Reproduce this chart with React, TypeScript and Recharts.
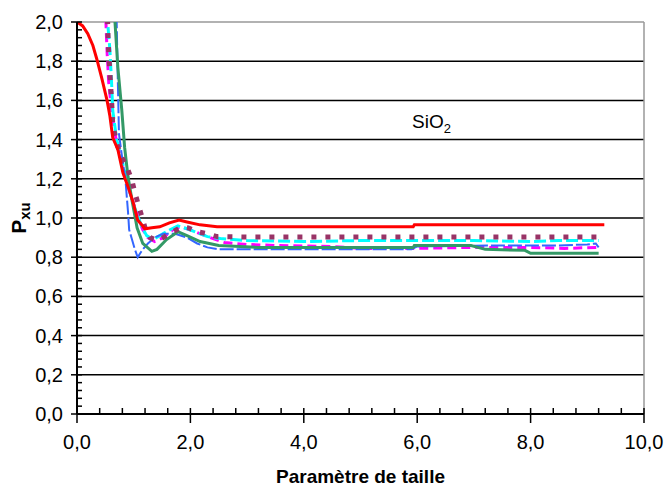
import React from "react";
import { LineChart, Line, XAxis, YAxis, ReferenceLine } from "recharts";

type P = { x: number; y: number };

// Tick values
const xTicks = [0, 0.4, 0.8, 1.2, 1.6, 2, 2.4, 2.8, 3.2, 3.6, 4, 4.4, 4.8, 5.2, 5.6, 6, 6.4, 6.8, 7.2, 7.6, 8, 8.4, 8.8, 9.2, 9.6, 10];
const yTicks = [0, 0.04, 0.08, 0.12, 0.16, 0.2, 0.24, 0.28, 0.32, 0.36, 0.4, 0.44, 0.48, 0.52, 0.56, 0.6, 0.64, 0.68, 0.72, 0.76, 0.8, 0.84, 0.88, 0.92, 0.96, 1.0, 1.04, 1.08, 1.12, 1.16, 1.2, 1.24, 1.28, 1.32, 1.36, 1.4, 1.44, 1.48, 1.52, 1.56, 1.6, 1.64, 1.68, 1.72, 1.76, 1.8, 1.84, 1.88, 1.92, 1.96, 2.0];
const gridValues = [0.2, 0.4, 0.6, 0.8, 1.0, 1.2, 1.4, 1.6, 1.8];

// Series (Paramètre de taille, Pxu)
const red: P[] = [
  { x: 0, y: 2.0 }, { x: 0.1, y: 1.98 }, { x: 0.19, y: 1.94 }, { x: 0.28, y: 1.88 }, { x: 0.35, y: 1.81 }, { x: 0.44, y: 1.71 }, { x: 0.53, y: 1.6 },
  { x: 0.58, y: 1.52 }, { x: 0.63, y: 1.41 }, { x: 0.72, y: 1.35 }, { x: 0.81, y: 1.23 }, { x: 0.9, y: 1.16 },
  { x: 0.99, y: 1.08 }, { x: 1.07, y: 0.99 }, { x: 1.2, y: 0.945 }, { x: 1.32, y: 0.95 }, { x: 1.46, y: 0.955 },
  { x: 1.63, y: 0.975 }, { x: 1.8, y: 0.99 }, { x: 1.94, y: 0.98 }, { x: 2.17, y: 0.965 }, { x: 2.47, y: 0.955 },
  { x: 3.0, y: 0.955 }, { x: 4.0, y: 0.955 }, { x: 5.0, y: 0.955 }, { x: 5.93, y: 0.955 }, { x: 5.95, y: 0.965 },
  { x: 7.0, y: 0.965 }, { x: 8.0, y: 0.965 }, { x: 9.3, y: 0.965 },
];
const magenta: P[] = [
  { x: 0.49, y: 2.3 }, { x: 0.51, y: 2.0 }, { x: 0.53, y: 1.85 }, { x: 0.56, y: 1.69 }, { x: 0.61, y: 1.55 },
  { x: 0.67, y: 1.43 }, { x: 0.72, y: 1.36 }, { x: 0.81, y: 1.26 }, { x: 0.9, y: 1.16 }, { x: 0.99, y: 1.08 },
  { x: 1.08, y: 1.0 }, { x: 1.16, y: 0.94 }, { x: 1.25, y: 0.9 }, { x: 1.37, y: 0.88 }, { x: 1.52, y: 0.9 },
  { x: 1.69, y: 0.94 }, { x: 1.82, y: 0.955 }, { x: 2.0, y: 0.94 }, { x: 2.17, y: 0.92 }, { x: 2.35, y: 0.9 },
  { x: 2.6, y: 0.875 }, { x: 3.0, y: 0.865 }, { x: 3.5, y: 0.86 }, { x: 4.5, y: 0.855 }, { x: 5.0, y: 0.845 },
  { x: 6.0, y: 0.845 }, { x: 7.0, y: 0.85 }, { x: 8.0, y: 0.85 }, { x: 8.6, y: 0.845 }, { x: 9.2, y: 0.85 },
];
const cyan: P[] = [
  { x: 0.52, y: 2.3 }, { x: 0.54, y: 2.0 }, { x: 0.58, y: 1.86 }, { x: 0.61, y: 1.69 }, { x: 0.63, y: 1.55 },
  { x: 0.7, y: 1.4 }, { x: 0.79, y: 1.3 }, { x: 0.88, y: 1.19 }, { x: 0.97, y: 1.09 }, { x: 1.06, y: 1.02 },
  { x: 1.15, y: 0.95 }, { x: 1.23, y: 0.91 }, { x: 1.34, y: 0.89 }, { x: 1.46, y: 0.91 }, { x: 1.64, y: 0.94 },
  { x: 1.78, y: 0.96 }, { x: 1.94, y: 0.945 }, { x: 2.12, y: 0.925 }, { x: 2.3, y: 0.905 }, { x: 2.53, y: 0.895 },
  { x: 3.0, y: 0.885 }, { x: 4.0, y: 0.88 }, { x: 5.0, y: 0.885 }, { x: 6.0, y: 0.885 }, { x: 7.0, y: 0.885 },
  { x: 8.0, y: 0.88 }, { x: 8.5, y: 0.885 }, { x: 9.2, y: 0.885 },
];
const blue: P[] = [
  { x: 0.68, y: 2.3 }, { x: 0.7, y: 2.0 }, { x: 0.72, y: 1.7 }, { x: 0.74, y: 1.43 }, { x: 0.8, y: 1.3 },
  { x: 0.85, y: 1.21 }, { x: 0.9, y: 1.03 }, { x: 0.92, y: 0.94 }, { x: 0.97, y: 0.89 }, { x: 1.02, y: 0.84 },
  { x: 1.07, y: 0.8 }, { x: 1.16, y: 0.84 }, { x: 1.25, y: 0.87 }, { x: 1.37, y: 0.9 }, { x: 1.52, y: 0.92 },
  { x: 1.73, y: 0.92 }, { x: 1.94, y: 0.9 }, { x: 2.12, y: 0.87 }, { x: 2.3, y: 0.85 }, { x: 2.5, y: 0.84 },
  { x: 4.0, y: 0.84 }, { x: 5.9, y: 0.84 }, { x: 6.0, y: 0.855 }, { x: 7.5, y: 0.86 }, { x: 8.5, y: 0.86 },
  { x: 9.0, y: 0.865 }, { x: 9.15, y: 0.87 }, { x: 9.2, y: 0.85 },
];
const green: P[] = [
  { x: 0.64, y: 2.3 }, { x: 0.67, y: 2.0 }, { x: 0.72, y: 1.77 }, { x: 0.79, y: 1.55 }, { x: 0.84, y: 1.36 },
  { x: 0.9, y: 1.21 }, { x: 0.97, y: 1.09 }, { x: 1.06, y: 0.95 }, { x: 1.16, y: 0.87 }, { x: 1.32, y: 0.83 },
  { x: 1.41, y: 0.84 }, { x: 1.58, y: 0.89 }, { x: 1.78, y: 0.93 }, { x: 1.94, y: 0.91 }, { x: 2.17, y: 0.88 },
  { x: 2.5, y: 0.86 }, { x: 3.2, y: 0.85 }, { x: 4.0, y: 0.85 }, { x: 5.0, y: 0.85 }, { x: 5.93, y: 0.85 },
  { x: 5.95, y: 0.86 }, { x: 6.95, y: 0.86 }, { x: 7.2, y: 0.84 }, { x: 7.9, y: 0.835 }, { x: 8.0, y: 0.82 },
  { x: 9.2, y: 0.82 },
];
const purple: P[] = [
  { x: 0.52, y: 2.3 }, { x: 0.54, y: 2.0 }, { x: 0.55, y: 1.9 }, { x: 0.58, y: 1.74 }, { x: 0.61, y: 1.6 },
  { x: 0.63, y: 1.48 }, { x: 0.7, y: 1.38 }, { x: 0.79, y: 1.31 }, { x: 0.88, y: 1.26 }, { x: 0.97, y: 1.19 },
  { x: 1.02, y: 1.13 }, { x: 1.11, y: 1.04 }, { x: 1.2, y: 0.95 }, { x: 1.29, y: 0.9 }, { x: 1.41, y: 0.885 },
  { x: 1.52, y: 0.9 }, { x: 1.69, y: 0.93 }, { x: 1.85, y: 0.955 }, { x: 1.96, y: 0.95 }, { x: 2.12, y: 0.93 },
  { x: 2.3, y: 0.92 }, { x: 2.47, y: 0.905 }, { x: 3.0, y: 0.903 }, { x: 4.0, y: 0.903 }, { x: 5.0, y: 0.903 },
  { x: 6.0, y: 0.903 }, { x: 7.0, y: 0.903 }, { x: 8.0, y: 0.903 }, { x: 9.17, y: 0.903 },
];

const FONT = "'Liberation Sans', Arial, sans-serif";
const isMajor = (v: number, step: number) => Math.abs(v / step - Math.round(v / step)) < 1e-6;
const fmt = (v: number) => v.toFixed(1).replace(".", ",");

const XTick = (props: any) => {
  const { x, y, payload } = props;
  const v = payload.value;
  const major = isMajor(v, 2);
  return (
    <g>
      <line x1={x} x2={x} y1={y - 6} y2={major ? y + 9 : y} stroke="#000" strokeWidth={1.5} />
      {major && (
        <text x={x} y={y + 35} textAnchor="middle" fontSize={20} fontFamily={FONT} fill="#000">
          {fmt(v)}
        </text>
      )}
    </g>
  );
};

const YTick = (props: any) => {
  const { x, y, payload } = props;
  const v = payload.value;
  const major = isMajor(v, 0.2);
  return (
    <g>
      <line x1={major ? x - 6 : x} x2={x + 5} y1={y} y2={y} stroke="#000" strokeWidth={1.5} />
      {major && (
        <text x={x - 14} y={y + 7} textAnchor="end" fontSize={20} fontFamily={FONT} fill="#000">
          {fmt(v)}
        </text>
      )}
    </g>
  );
};

const YTitle = (props: any) => {
  const vb = props.viewBox || { x: 0, y: 22, width: 77, height: 392 };
  const cy = vb.y + vb.height / 2;
  return (
    <text transform={`translate(26, ${cy}) rotate(-90)`} textAnchor="middle" fontFamily={FONT} fontWeight="bold" fontSize={21} fill="#000">
      P<tspan fontSize={15} dy={4}>xu</tspan>
    </text>
  );
};

const XTitle = (props: any) => {
  const vb = props.viewBox || { x: 77, y: 414, width: 567, height: 76 };
  return (
    <text x={vb.x + vb.width / 2} y={vb.y + 69} textAnchor="middle" fontFamily={FONT} fontWeight="bold" fontSize={19} fill="#000">
      Paramètre de taille
    </text>
  );
};

const series = [
  { name: "s2", data: magenta, color: "#FF00FF", w: 3, dash: "9 5" },
  { name: "s3", data: cyan, color: "#00FFFF", w: 3, dash: "12 4" },
  { name: "s4", data: blue, color: "#3366FF", w: 2, dash: "14 3" },
  { name: "s5", data: green, color: "#339966", w: 3, dash: undefined },
  { name: "s6", data: purple, color: "#993366", w: 5, dash: "5 9" },
  { name: "s1", data: red, color: "#FF0000", w: 3, dash: undefined },
];

export default function App() {
  return (
    <div style={{ position: "absolute", left: 0, top: 0, width: 664, height: 490, background: "#fff" }}>
      <LineChart width={664} height={490} margin={{ top: 22, right: 20, bottom: 0, left: 0 }}>
        <XAxis
          type="number"
          dataKey="x"
          domain={[0, 10]}
          ticks={xTicks}
          interval={0}
          allowDataOverflow
          height={76}
          tickSize={0}
          tickMargin={0}
          tickLine={false}
          tick={<XTick />}
          axisLine={{ stroke: "#000", strokeWidth: 2 }}
          label={{ content: <XTitle /> }}
        />
        <YAxis
          type="number"
          dataKey="y"
          domain={[0, 2]}
          ticks={yTicks}
          interval={0}
          allowDataOverflow
          width={77}
          tickSize={0}
          tickMargin={0}
          tickLine={false}
          tick={<YTick />}
          axisLine={{ stroke: "#000", strokeWidth: 2 }}
          label={{ content: <YTitle /> }}
        />
        {gridValues.map((v) => (
          <ReferenceLine key={v} y={v} stroke="#000" strokeWidth={1.5} />
        ))}
        <ReferenceLine y={2} stroke="#999" strokeWidth={1.5} />
        <ReferenceLine x={10} stroke="#999" strokeWidth={1.5} />
        {series.map((s) => (
          <Line
            key={s.name}
            name={s.name}
            data={s.data}
            dataKey="y"
            type="linear"
            stroke={s.color}
            strokeWidth={s.w}
            strokeDasharray={s.dash}
            dot={false}
            activeDot={false}
            isAnimationActive={false}
          />
        ))}
      </LineChart>
      <svg width={664} height={490} style={{ position: "absolute", left: 0, top: 0, pointerEvents: "none" }}>
        <text x={412} y={128} fontFamily={FONT} fontSize={19} fill="#000">
          SiO<tspan fontSize={13} dy={5}>2</tspan>
        </text>
      </svg>
    </div>
  );
}
